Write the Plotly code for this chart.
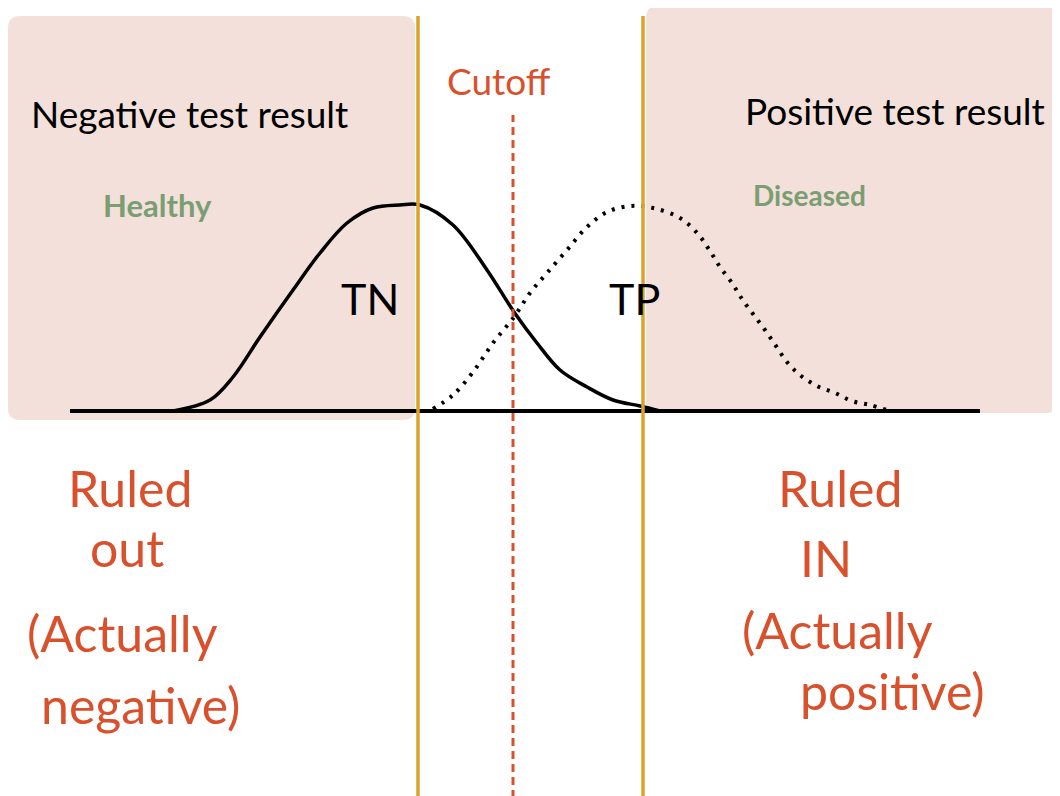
import plotly.graph_objects as go

# test value (x) and density above the baseline (y)
healthy_x = [173, 210, 233, 260, 293, 320, 347, 373, 400, 420, 453, 487, 514, 537, 560, 587, 613, 640, 660]
healthy_y = [0, 11, 34, 74, 121, 158, 188, 203, 206, 206, 186, 141, 99, 68, 41, 24, 11, 5, 0]

diseased_x = [433, 453, 473, 493, 514, 530, 547, 567, 587, 607, 630, 653, 680, 698, 710, 720,
              732, 742, 753, 765, 776, 787, 800, 817, 835, 852, 870, 890]
diseased_y = [2, 16, 39, 68, 94, 118, 138, 161, 184, 199, 205, 203, 193, 177, 160, 144,
              128, 112, 97, 81, 65, 49, 36, 25, 18, 10, 6, 0]

baseline_x = [70, 980]
cutoff = 513
bounds = [418, 643]

RED = "#d9512c"
GREEN = "#7a9e72"
GOLD = "#dba32a"
PINK = "#f3e0db"
FONT = "Lato"


def rounded_rect(x0, y0, x1, y1, r):
    return (f"M {x0+r},{y0} L {x1-r},{y0} Q {x1},{y0} {x1},{y0+r} "
            f"L {x1},{y1-r} Q {x1},{y1} {x1-r},{y1} L {x0+r},{y1} "
            f"Q {x0},{y1} {x0},{y1-r} L {x0},{y0+r} Q {x0},{y0} {x0+r},{y0} Z")


fig = go.Figure()

fig.add_shape(type="path", path=rounded_rect(8, -9, 415, 395, 12),
              fillcolor=PINK, line_width=0, layer="below")
fig.add_shape(type="path", path=rounded_rect(646, -2, 1058, 405, 12),
              fillcolor=PINK, line_width=0, layer="below")

fig.add_trace(go.Scatter(x=baseline_x, y=[0, 0], mode="lines",
                         line=dict(color="black", width=4), hoverinfo="skip"))
fig.add_trace(go.Scatter(x=healthy_x, y=healthy_y, mode="lines", line_shape="spline",
                         line=dict(color="black", width=3.5), name="Healthy"))
fig.add_trace(go.Scatter(x=diseased_x, y=diseased_y, mode="lines", line_shape="spline",
                         line=dict(color="black", width=4, dash="3px,7px"), name="Diseased"))

for b in bounds:
    fig.add_shape(type="line", x0=b, x1=b, y0=-400, y1=395,
                  line=dict(color=GOLD, width=3.5))
fig.add_shape(type="line", x0=cutoff, x1=cutoff, y0=-400, y1=296,
              line=dict(color=RED, width=3, dash="8px,5px"))

# (text, x, y, colour, size, weight)
labels = [
    ("Negative test result", 189, 298, "black", 37, 400),
    ("Positive test result", 895, 301, "black", 37, 400),
    ("Cutoff", 499, 331, RED, 37, 400),
    ("Healthy", 157, 206, GREEN, 31, 700),
    ("Diseased", 809, 216, GREEN, 28, 700),
    ("TN", 370, 113, "black", 43, 400),
    ("TP", 634, 113, "black", 43, 400),
    ("Ruled", 130, -77, RED, 50, 400),
    ("out", 127, -137, RED, 50, 400),
    ("(Actually", 122, -222, RED, 50, 400),
    ("negative)", 140, -294, RED, 50, 400),
    ("Ruled", 840, -77, RED, 50, 400),
    ("IN", 826, -147, RED, 50, 400),
    ("(Actually", 837, -219, RED, 50, 400),
    ("positive)", 892, -280, RED, 50, 400),
]
for text, x, y, color, size, weight in labels:
    fig.add_annotation(x=x, y=y, text=text, showarrow=False,
                       font=dict(family=FONT, size=size, color=color, weight=weight))

fig.update_layout(
    width=1060, height=796,
    margin=dict(l=0, r=0, t=0, b=0),
    paper_bgcolor="white", plot_bgcolor="white",
    showlegend=False,
    xaxis=dict(range=[8, 1068], visible=False),
    yaxis=dict(range=[-393, 403], visible=False),
)

fig.write_html("out.html")
